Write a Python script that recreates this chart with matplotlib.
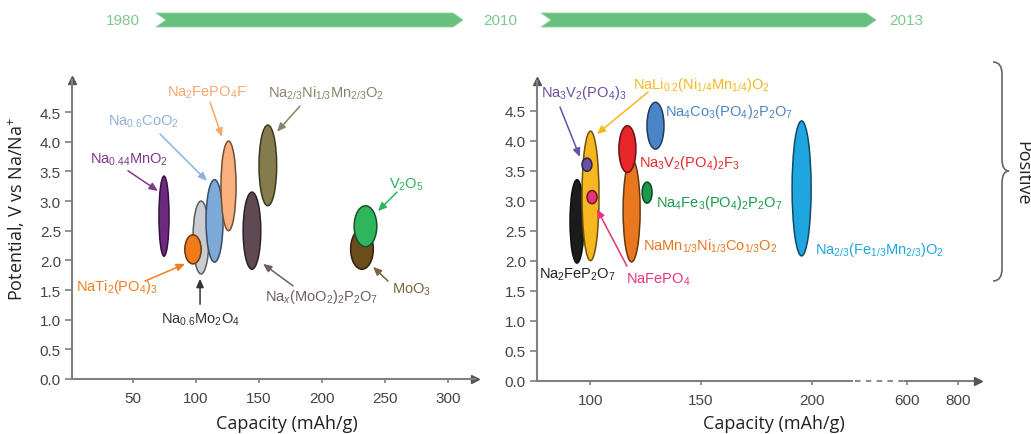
import numpy as np
import matplotlib
matplotlib.use("Agg")
import matplotlib.pyplot as plt
from matplotlib.patches import Ellipse, Polygon, PathPatch
from matplotlib.path import Path
from matplotlib.colors import to_rgb

plt.rcParams['font.family'] = ['Liberation Sans', 'DejaVu Sans']
plt.rcParams['mathtext.fontset'] = 'custom'
plt.rcParams['mathtext.rm'] = 'Liberation Sans'
plt.rcParams['mathtext.it'] = 'Liberation Sans:italic'
plt.rcParams['mathtext.bf'] = 'Liberation Sans:bold'

# ---------------- data: left panel (1980-2010) ----------------
left_names = [r"Na$_{0.44}$MnO$_2$", r"Na$_{0.6}$Mo$_2$O$_4$", r"Na$_{0.6}$CoO$_2$",
              r"NaTi$_2$(PO$_4$)$_3$", r"Na$_2$FePO$_4$F", r"Na$_x$(MoO$_2$)$_2$P$_2$O$_7$",
              r"Na$_{2/3}$Ni$_{1/3}$Mn$_{2/3}$O$_2$", r"MoO$_3$", r"V$_2$O$_5$"]
left_capacity = [74.6, 104.0, 114.7, 97.6, 125.8, 144.4, 157.0, 231.7, 234.5]
left_v_low = [2.07, 1.77, 1.97, 1.94, 2.50, 1.85, 2.92, 1.85, 2.23]
left_v_high = [3.42, 3.00, 3.36, 2.43, 4.01, 3.15, 4.28, 2.53, 2.92]
left_cap_span = [8.0, 12.7, 13.5, 13.0, 12.0, 14.0, 14.0, 18.0, 18.0]
left_colors = ["#6e2a7e", "#c9cdd1", "#7eaad9", "#f07b1a", "#f9b07c", "#5f4a54",
               "#857c4e", "#6b4c1c", "#2fb55c"]
left_label_colors = ["#7b3a8c", "#333333", "#8db3dd", "#f07d1e", "#f7a76c", "#6e5e66",
                     "#8a8466", "#7a6440", "#2db55a"]
left_yticks = [0.0, 0.5, 1.0, 1.5, 2.0, 2.5, 3.0, 3.5, 4.0, 4.5]
left_xticks = [50, 100, 150, 200, 250, 300]

# ---------------- data: right panel (2010-2013) ----------------
right_names = [r"Na$_2$FeP$_2$O$_7$", r"NaLi$_{0.2}$(Ni$_{1/4}$Mn$_{1/4}$)O$_2$", r"Na$_3$V$_2$(PO$_4$)$_3$",
               r"NaFePO$_4$", r"NaMn$_{1/3}$Ni$_{1/3}$Co$_{1/3}$O$_2$", r"Na$_3$V$_2$(PO$_4$)$_2$F$_3$",
               r"Na$_4$Co$_3$(PO$_4$)$_2$P$_2$O$_7$", r"Na$_4$Fe$_3$(PO$_4$)$_2$P$_2$O$_7$",
               r"Na$_{2/3}$(Fe$_{1/3}$Mn$_{2/3}$)O$_2$"]
right_capacity = [93.9, 100.0, 98.4, 100.7, 118.6, 116.7, 129.4, 125.6, 195.5]
right_v_low = [1.96, 2.00, 3.49, 2.95, 1.98, 3.47, 3.86, 2.96, 2.08]
right_v_high = [3.35, 4.16, 3.71, 3.17, 3.70, 4.25, 4.64, 3.31, 4.33]
right_cap_span = [6.3, 7.7, 4.5, 4.5, 7.7, 7.7, 7.7, 4.5, 8.6]
right_colors = ["#1c1c1c", "#f6b81e", "#6a4fa3", "#e8327a", "#e8771f", "#e8262a",
                "#4a86c5", "#1b9a4b", "#1fa6e0"]
right_label_colors = ["#222222", "#f5b820", "#6a4fa3", "#e8327a", "#e87722", "#e8282a",
                      "#4a86c5", "#1a9a4a", "#1fa6e0"]
right_yticks = [0.0, 0.5, 1.0, 1.5, 2.0, 2.5, 3.0, 3.5, 4.0, 4.5]
right_xticks = [100, 150, 200, 600, 800]

years = ["1980", "2010", "2013"]

W, H = 1031, 435
fig = plt.figure(figsize=(W / 100, H / 100), dpi=100)

def px_axes(x0, x1, ytop, ybot):
    return fig.add_axes([x0 / W, (H - ybot) / H, (x1 - x0) / W, (ybot - ytop) / H])

def darker(c, f=0.5):
    r, g, b = to_rgb(c)
    return (r * f, g * f, b * f)

AX_COL = "#808080"

def style_axes(ax, yticks, xticks, broken=None):
    for s in ["top", "right"]:
        ax.spines[s].set_visible(False)
    ax.spines["left"].set_color(AX_COL)
    ax.spines["left"].set_linewidth(1.5)
    if broken:
        a, b, c = broken
        ax.spines["bottom"].set_visible(False)
        ax.plot([0, a], [0, 0], color=AX_COL, lw=1.5, transform=ax.transAxes, clip_on=False)
        ax.plot([a + 0.008, b], [0, 0], color=AX_COL, lw=1.3, ls=(0, (3, 3)),
                transform=ax.transAxes, clip_on=False)
        ax.plot([b, c], [0, 0], color=AX_COL, lw=1.5, transform=ax.transAxes, clip_on=False)
    else:
        ax.spines["bottom"].set_color(AX_COL)
        ax.spines["bottom"].set_linewidth(1.5)
    ax.plot([1], [0], marker=">", ms=6, color="#555555", transform=ax.transAxes, clip_on=False)
    ax.plot([0], [1], marker="^", ms=6, color="#555555", transform=ax.transAxes, clip_on=False)
    ax.set_yticks(yticks)
    ax.set_yticklabels([f"{v:.1f}" for v in yticks])
    ax.set_xticks(xticks)
    ax.set_xticklabels([str(v) for v in xticks])
    ax.tick_params(axis="y", length=5, width=1.2, color=AX_COL, pad=3, labelsize=11, labelcolor="#444444")
    ax.tick_params(axis="x", length=3, width=1.2, color=AX_COL, pad=6, labelsize=11, labelcolor="#444444")
    ax.minorticks_off()

def draw_ellipses(ax, caps, lo, hi, spans, colors):
    for c, l, h, w, col in zip(caps, lo, hi, spans, colors):
        e = Ellipse((c, (l + h) / 2), width=w, height=h - l, facecolor=col,
                    edgecolor=darker(col, 0.45), lw=1.1, zorder=3)
        ax.add_patch(e)

def arrow(ax, start, end, color):
    ax.annotate("", xy=end, xytext=start,
                arrowprops=dict(arrowstyle="-|>,head_length=0.5,head_width=0.22", color=color,
                                lw=1.1, shrinkA=0, shrinkB=0), zorder=4)

LBL = 10.5

# ---------- left panel ----------
axL = px_axes(72, 475, 81, 380)
axL.set_xlim(1.6, 321.4)
axL.set_ylim(0, 5.04)
style_axes(axL, left_yticks, left_xticks)
draw_ellipses(axL, left_capacity, left_v_low, left_v_high, left_cap_span, left_colors)

left_text_pos = [(46.8, 3.71), (103.2, 1.01), (57.9, 4.35), (37.3, 1.57), (108.7, 4.84),
                 (199.2, 1.40), (203.2, 4.84), (271.4, 1.52), (266.7, 3.29)]
left_arrows = [((46, 3.51), (69.8, 3.17)), ((103.2, 1.26), (103.2, 1.69)),
               ((71.4, 4.13), (108.7, 3.34)), ((59.5, 1.65), (91.3, 1.94)),
               ((111.1, 4.67), (120.6, 4.08)), ((177, 1.57), (153.2, 1.94)),
               ((182.5, 4.60), (164.3, 4.17)), ((252.4, 1.65), (240.5, 1.89)),
               ((259.5, 3.15), (244.4, 2.83))]
for name, pos, (s, e), col in zip(left_names, left_text_pos, left_arrows, left_label_colors):
    axL.text(pos[0], pos[1], name, color=col, fontsize=LBL, ha="center", va="center", zorder=5)
    arrow(axL, s, e, col)

# ---------- right panel (broken x axis) ----------
def fwd(x):
    x = np.asarray(x, float)
    return np.where(x <= 220, x,
                    np.where(x <= 600, 220 + (x - 220) * (23.3 / 380), 243.3 + (x - 600) * 0.1155))

def inv(y):
    y = np.asarray(y, float)
    return np.where(y <= 220, y,
                    np.where(y <= 243.3, 220 + (y - 220) * (380 / 23.3), 600 + (y - 243.3) / 0.1155))

axR = px_axes(537, 978, 82, 381.7)
axR.set_xscale("function", functions=(fwd, inv))
axR.set_xlim(75.8, 877)
axR.set_ylim(0, 4.995)
style_axes(axR, right_yticks, right_xticks, broken=(0.714, 0.834, 0.99))
draw_ellipses(axR, right_capacity, right_v_low, right_v_high, right_cap_span, right_colors)

right_text = [((93.9, 1.78), "center"), ((150.0, 4.94), "center"), ((97.1, 4.81), "center"),
              ((130.5, 1.69), "center"), ((123.8, 2.25), "left"), ((121.9, 3.65), "left"),
              ((133.7, 4.50), "left"), ((129.6, 2.98), "left"), ((201.6, 2.20), "left")]
right_arrows = [None, ((126, 4.81), (102.9, 4.11)), ((86.2, 4.56), (95.2, 3.73)),
                ((116.5, 1.91), (102.9, 2.86)), None, None, None, None, None]
for name, (pos, ha), arr, col in zip(right_names, right_text, right_arrows, right_label_colors):
    axR.text(pos[0], pos[1], name, color=col, fontsize=LBL, ha=ha, va="center", zorder=5)
    if arr is not None:
        arrow(axR, arr[0], arr[1], col)

# ---------- overlay: timeline, labels, brace ----------
ov = fig.add_axes([0, 0, 1, 1], zorder=-1)
ov.set_xlim(0, W)
ov.set_ylim(H, 0)
ov.axis("off")
GREEN = "#67bf7d"
for x0, x1 in [(156, 463), (541, 876)]:
    pts = [(x0, 14), (x1 - 10, 14), (x1, 21), (x1 - 10, 28), (x0, 28), (x0 + 10, 21)]
    ov.add_patch(Polygon(pts, closed=True, facecolor=GREEN, edgecolor="#8fd3a0", lw=0.6))
for yr, x in zip(years, [123, 500, 906]):
    ov.text(x, 21, yr, color="#7dca90", fontsize=11, ha="center", va="center")

ov.text(17, 209, r"Potential, V vs Na/Na$^{+}$", rotation=90, fontsize=13,
        family="Open Sans", ha="center", va="center", color="#222222")
ov.text(287, 424, "Capacity (mAh/g)", fontsize=13, family="Open Sans",
        ha="center", va="center", color="#222222")
ov.text(774, 424, "Capacity (mAh/g)", fontsize=13, family="Open Sans",
        ha="center", va="center", color="#222222")

verts = [(993, 63), (1002, 63), (1002, 75), (1002, 160), (1002, 172), (1009, 172),
         (1002, 172), (1002, 184), (1002, 270), (1002, 282), (993, 282)]
codes = [Path.MOVETO, Path.CURVE3, Path.CURVE3, Path.LINETO, Path.CURVE3, Path.CURVE3,
         Path.CURVE3, Path.CURVE3, Path.LINETO, Path.CURVE3, Path.CURVE3]
ov.add_patch(PathPatch(Path(verts, codes), facecolor="none", edgecolor="#666666", lw=1.2))
ov.text(1022, 173, "Positive", rotation=-90, fontsize=13, family="Open Sans",
        ha="center", va="center", color="#222222")

fig.savefig("out.png", dpi=100)
